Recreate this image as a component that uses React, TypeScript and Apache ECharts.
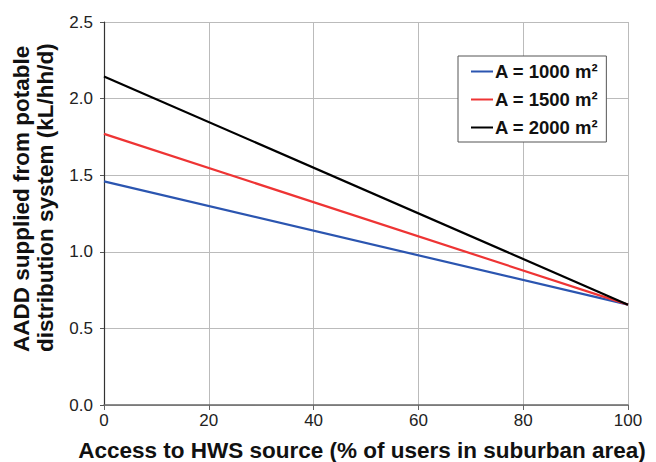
import React, { useEffect, useRef } from "react";
import * as echarts from "echarts";

const xTicks = [0, 20, 40, 60, 80, 100];
const seriesNames = ["A = 1000 m²", "A = 1500 m²", "A = 2000 m²"];
const seriesColors = ["#2b55b0", "#ee3434", "#000000"];
const xValues = [0, 100];
const blueValues = [1.46, 0.655];
const redValues = [1.77, 0.655];
const blackValues = [2.145, 0.655];
const allValues = [blueValues, redValues, blackValues];
const xTitle = "Access to HWS source (% of users in suburban area)";
const yTitle = "AADD supplied from potable\ndistribution system (kL/hh/d)";

const FONT = "'Liberation Sans', Arial, sans-serif";

export default function App() {
  const ref = useRef<HTMLDivElement>(null);
  useEffect(() => {
    if (!ref.current) return;
    const chart = echarts.init(ref.current, null, { renderer: "svg" });
    chart.setOption({
      animation: false,
      backgroundColor: "#ffffff",
      textStyle: { fontFamily: FONT },
      grid: { left: 104, right: 28, top: 22, bottom: 57, containLabel: false, outerBoundsMode: "none" },
      graphic: [
        {
          type: "text",
          x: 33.5,
          y: 352,
          rotation: Math.PI / 2,
          style: {
            text: yTitle,
            fontFamily: FONT,
            fontSize: 22.5,
            fontWeight: "bold",
            fill: "#111",
            lineHeight: 23.5,
            align: "left",
            verticalAlign: "middle",
          },
        },
        {
          type: "text",
          x: 362,
          y: 450,
          style: {
            text: xTitle,
            fontFamily: FONT,
            fontSize: 22.5,
            fontWeight: "bold",
            fill: "#111",
            align: "center",
            verticalAlign: "middle",
          },
        },
      ],
      legend: {
        left: 458,
        top: 56,
        orient: "vertical",
        backgroundColor: "#ffffff",
        borderColor: "#555555",
        borderWidth: 1,
        padding: [6, 8, 5, 13],
        itemGap: 9,
        itemWidth: 22,
        itemHeight: 2,
        icon: "rect",
        textStyle: {
          fontFamily: FONT,
          fontSize: 18.5,
          fontWeight: "bold",
          color: "#111",
          lineHeight: 19,
          padding: [0, 0, 0, -3],
        },
        data: seriesNames,
      },
      xAxis: {
        type: "value",
        min: 0,
        max: 100,
        interval: 20,
        axisLine: { show: true, lineStyle: { color: "#666666", width: 1.5 } },
        axisTick: { show: true, inside: false, length: 5, lineStyle: { color: "#666666" } },
        axisLabel: {
          fontFamily: FONT,
          fontSize: 17,
          color: "#222",
          margin: 7,
          formatter: (v: number) => (xTicks.includes(v) ? String(v) : ""),
        },
        splitLine: { show: true, lineStyle: { color: "#bbbbbb", width: 1 } },
      },
      yAxis: {
        type: "value",
        min: 0,
        max: 2.5,
        interval: 0.5,
        axisLine: { show: true, lineStyle: { color: "#333333", width: 1.2 } },
        axisTick: { show: true, inside: false, length: 4, lineStyle: { color: "#555555" } },
        axisLabel: {
          fontFamily: FONT,
          fontSize: 17,
          color: "#222",
          margin: 11,
          formatter: (v: number) => v.toFixed(1),
        },
        splitLine: { show: true, lineStyle: { color: "#bbbbbb", width: 1 } },
      },
      series: seriesNames.map((name, i) => ({
        name,
        type: "line",
        symbol: "none",
        lineStyle: { color: seriesColors[i], width: 2.2 },
        itemStyle: { color: seriesColors[i] },
        data: xValues.map((x, j) => [x, allValues[i][j]]),
        z: 3 + i,
      })),
    });
    return () => chart.dispose();
  }, []);
  return <div ref={ref} style={{ width: 656, height: 462, position: "absolute", left: 0, top: 0 }} />;
}
